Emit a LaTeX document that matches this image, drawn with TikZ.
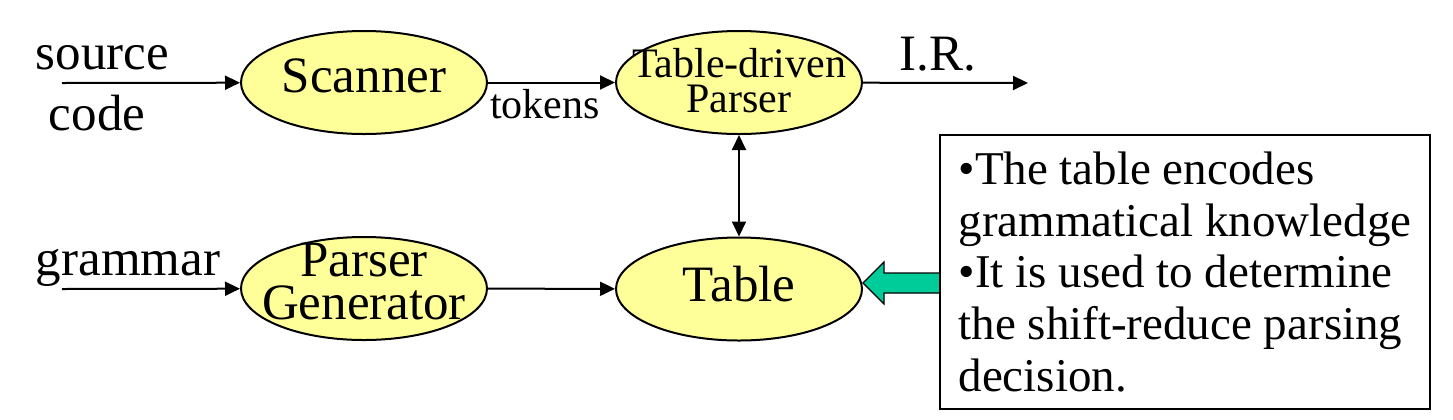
\documentclass[tikz,border=0pt]{standalone}
\usepackage{fontspec}
\setmainfont{Liberation Serif}
\usetikzlibrary{arrows.meta,shapes.geometric}
\definecolor{blobyellow}{RGB}{255,255,153}
\definecolor{hintgreen}{RGB}{0,204,153}

\begin{document}
\begin{tikzpicture}[x=0.5pt,y=-0.5pt,
	blob/.style={ellipse,draw,line width=1pt,fill=blobyellow,minimum width=123pt,minimum height=51.5pt,inner sep=0pt},
	flow/.style={-{Triangle[length=7.5pt,width=7pt]},line width=1pt},
	both/.style={{Triangle[length=7.5pt,width=7pt]}-{Triangle[length=7.5pt,width=7pt]},line width=1pt},
	big/.style={font=\fontsize{25.5}{21.5}\selectfont},
	small/.style={font=\fontsize{21}{17.5}\selectfont},
	note/.style={draw,line width=1pt,minimum width=245pt,minimum height=137pt,inner xsep=8.5pt,align=left,font=\fontsize{23.5}{25.85}\selectfont}]
	\useasboundingbox (0,0) rectangle (1453,419);
	
	% top row
	\node[blob,label={[big,yshift=3.25pt]center:Scanner}] (scan) at (364,82.5) {};
	\node[blob,label={[small,align=center,yshift=0.75pt]center:Table-driven\\Parser}] (parse) at (739,82.5) {};
	\node[big,anchor=base] (src) at (102.5,69) {source};
	\node[big,anchor=base] (code) at (97,130) {code};
	\node[small,anchor=base] (tok) at (545,118) {tokens};
	\node[big,anchor=base] (ir) at (938,70) {I.R.};
	\coordinate (in1) at (62,83);
	\coordinate (out) at (1028,83);
	
	% bottom row
	\node[blob,label={[big,align=center,yshift=3.5pt]center:Parser\\Generator}] (gen) at (364,288.5) {};
	\node[blob,label={[big,yshift=2.5pt]center:Table}] (tbl) at (739,289) {};
	\node[big,anchor=base] (gram) at (128,275) {grammar};
	\coordinate (in2) at (62,289);
	
	\draw[flow] (in1) -- (scan);
	\draw[flow] (scan) -- (parse);
	\draw[flow] (parse) -- (out);
	\draw[both] (parse) -- (tbl);
	\draw[flow] (in2) -- (gen);
	\draw[flow] (gen) -- (tbl);
	
	% hint box
	\draw[fill=hintgreen,line width=0.6pt] ([yshift=3pt]tbl.east) -- ++(21,-21) -- ++(0,11) -- ++(56,0) -- ++(0,20) -- ++(-56,0) -- ++(0,11) -- cycle;
	\node[note,anchor=north west,fill=white] (hint) at (939,134) {•The table encodes\\grammatical knowledge\\•It is used to determine\\the shift-reduce parsing\\decision.};
\end{tikzpicture}
\end{document}
